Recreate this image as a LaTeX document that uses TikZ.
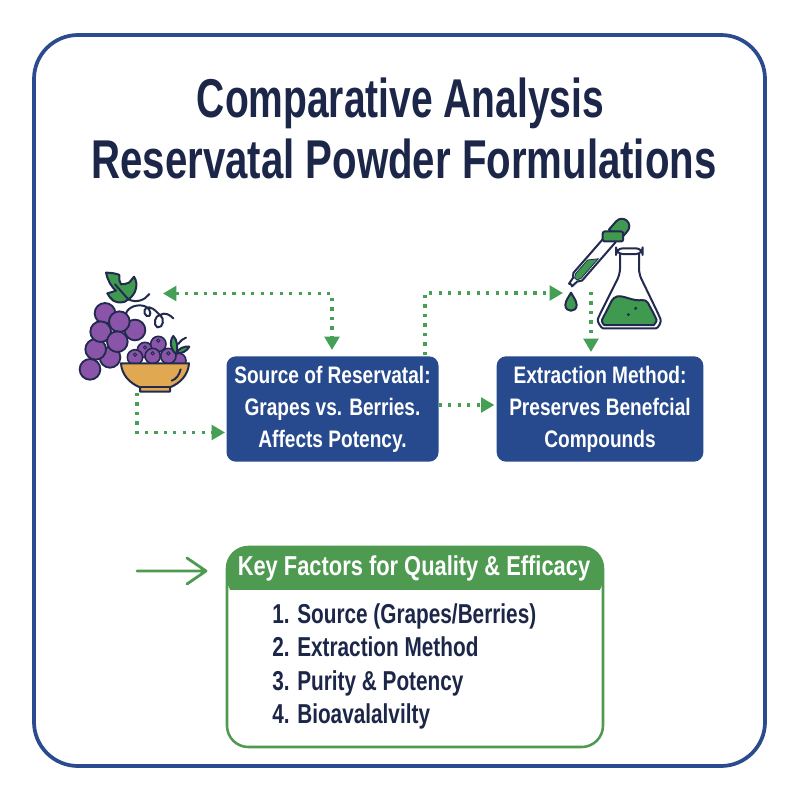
\documentclass[tikz,border=0pt]{standalone}
\usepackage{fontspec}
\setmainfont{Liberation Sans}[BoldFont={Liberation Sans Bold}]
\newfontfamily\condfont{Liberation Sans Bold}[FakeStretch=0.80]
\newfontfamily\titlefont{Liberation Sans Bold}[FakeStretch=0.713]
\newfontfamily\titlefontb{Liberation Sans Bold}[FakeStretch=0.735]
\newfontfamily\listfont{Liberation Sans Bold}[FakeStretch=0.76]
\newcommand{\lowr}[1]{\raisebox{-2.25pt}{#1}}
\usetikzlibrary{arrows.meta,calc}
\definecolor{navy}{HTML}{1C2648}
\definecolor{framec}{HTML}{2A4B8D}
\definecolor{boxc}{HTML}{274A8E}
\definecolor{greenc}{HTML}{4E9A50}
\definecolor{leafc}{HTML}{3F9A50}
\definecolor{dotc}{HTML}{45A055}
\definecolor{grapec}{HTML}{8A55A8}
\definecolor{bowlc}{HTML}{E0A850}
\definecolor{outl}{HTML}{232A50}
\tikzset{
  dotline/.style={draw=dotc,line width=2.4pt,dash pattern=on 2.4pt off 4.7pt,-{Triangle[length=10pt,width=11pt,fill=dotc,color=dotc]}},
  dotboth/.style={dotline,{Triangle[length=10pt,width=11pt,fill=dotc,color=dotc]}-{Triangle[length=10pt,width=11pt,fill=dotc,color=dotc]}},
  bluebox/.style={fill=boxc,rounded corners=7pt,text=white,align=center,inner sep=0pt,font=\condfont\fontsize{17.9}{24}\selectfont},
  grape/.style={fill=grapec,draw=outl,line width=1.4pt},
  berry/.style={fill=grapec,draw=outl,line width=1.2pt},
  icon/.style={draw=outl,line width=1.5pt,line join=round,line cap=round},
  zoomA/.style={shift={(60,250)},x=0.25pt,y=-0.25pt},
  zoomB/.style={shift={(400,210)},x=0.25pt,y=-0.25pt},
}
\begin{document}
\begin{tikzpicture}[x=0.75pt,y=-0.75pt]
\useasboundingbox (0,0) rectangle (800,800);
\fill[white] (0,0) rectangle (800,800);
\draw[framec,line width=2.8pt,rounded corners=33pt] (34,35) rectangle (765,766);

\node[anchor=base,inner sep=0pt,font=\titlefont\fontsize{41}{46}\selectfont,text=navy] (t1) at (400.5,117.5) {Comparative Analysis};
\node[anchor=base,inner sep=0pt,font=\titlefontb\fontsize{41}{46}\selectfont,text=navy] (t2) at (404,178) {Reservatal Powder Formulations};

% grapes and bowl
\begin{scope}[zoomA]
\draw[icon] (205,148) .. controls (230,160) and (255,150) .. (268,132);
\draw[icon] (198,190) .. controls (205,170) and (235,160) .. (258,170) .. controls (275,178) and (275,205) .. (260,198) .. controls (248,190) and (252,170) .. (268,172) .. controls (285,176) and (292,190) .. (300,195) .. controls (285,195) and (278,225) .. (292,232) .. controls (310,235) and (315,205) .. (300,195) .. controls (315,185) and (330,195) .. (340,205);
\foreach \gx/\gy in {135/190,225/240,178/215,150/322,107/298,122/245,172/275,90/358}
  \draw[grape] (\gx,\gy) circle (31);
\draw[icon,fill=leafc] (138,68) .. controls (150,68) and (170,70) .. (178,75) .. controls (176,85) and (178,95) .. (183,103) .. controls (192,102) and (200,102) .. (207,98) .. controls (212,92) and (218,86) .. (222,80) .. controls (230,92) and (230,105) .. (228,115) .. controls (225,130) and (215,142) .. (205,148) .. controls (198,155) and (192,156) .. (186,157) .. controls (175,158) and (165,156) .. (160,152) .. controls (152,146) and (146,138) .. (142,130) .. controls (150,128) and (160,125) .. (168,122) .. controls (155,112) and (142,90) .. (138,68) -- cycle;
\draw[icon] (165,103) -- (205,148);
\foreach \bx/\by in {355/332,255/300,295/282,225/322,278/318,325/318}
  \draw[berry] (\bx,\by) circle (23);
\foreach \bx/\by in {255/292,295/272,225/314,278/310,325/310}
  \draw[outl,line width=.7pt] (\bx,\by) circle (5);
\draw[icon,fill=leafc] (340,258) .. controls (352,268) and (354,295) .. (350,312) .. controls (335,305) and (325,275) .. (340,258) -- cycle;
\draw[icon,fill=leafc] (350,310) .. controls (355,295) and (372,288) .. (388,290) .. controls (382,302) and (365,312) .. (350,310) -- cycle;
\draw[icon] (355,282) .. controls (362,272) and (370,265) .. (378,263);
\draw[icon,fill=bowlc] (183,340) -- (387,340) .. controls (385,375) and (360,400) .. (330,412) -- (330,425) -- (240,425) -- (240,412) .. controls (210,400) and (185,375) .. (183,340) -- cycle;
\draw[icon] (240,412) -- (330,412);
\draw[icon] (335,392) .. controls (348,388) and (358,375) .. (362,358);
\end{scope}

% dropper and flask
\begin{scope}[zoomB]
\draw[icon,fill=white,rounded corners=4pt] (660,130) -- (660,192) -- (600,312) .. controls (590,335) and (605,355) .. (625,355) -- (752,355) .. controls (775,355) and (785,335) .. (775,312) -- (717,192) -- (717,130);
\draw[icon,fill=white,rounded corners=5pt] (648,115) rectangle (728,132);
\draw[icon,fill=leafc,rounded corners=3pt] (640,262) .. controls (670,255) and (700,275) .. (738,268) -- (765,318) .. controls (772,335) and (760,345) .. (750,345) -- (625,345) .. controls (612,345) and (603,335) .. (612,318) -- cycle;
\fill[outl] (707,295) circle (5) (685,314) circle (5);
\draw[icon,fill=leafc] (513,248) .. controls (518,258) and (530,272) .. (530,285) .. controls (530,308) and (496,308) .. (496,285) .. controls (496,272) and (508,258) .. (513,248) -- cycle;
\end{scope}
\begin{scope}[shift={(570.5,285)},x={(0.4935pt,0.5648pt)},y={(0.5648pt,-0.4935pt)}]
  \draw[icon,fill=white] (0,-2) to[bend left=50] (0,2) -- (7,2.8) -- (11,5.8) -- (62,5.8) -- (62,-5.8) -- (11,-5.8) -- (7,-2.8) -- cycle;
  \fill[leafc,draw=outl,line width=.6pt] (8,-1.6) -- (12,-3.6) -- (30,-3.6) -- (38,3.6) -- (12,3.6) -- (8,1.6) -- cycle;
  \draw[icon,fill=leafc] (67,-7.5) -- (78,-7.5) arc (-90:90:7.5) -- (67,7.5) -- cycle;
  \draw[icon,fill=leafc,rounded corners=1.5pt] (61.5,-11) rectangle (67.5,11);
\end{scope}

% boxes
\node[bluebox,minimum width=159pt,minimum height=79pt] (src) at (332.5,409) {\lowr{Source of Reservatal:}\\\lowr{Grapes vs. Berries.}\\\lowr{Affects Potency.}};
\node[bluebox,minimum width=155pt,minimum height=79pt] (ext) at (600,409) {\lowr{Extraction Method:}\\\lowr{Preserves Benefcial}\\\lowr{Compounds}};

% connectors
\coordinate (grapeend) at (163,293.5);
\coordinate (srctop) at (332,350);
\coordinate (bowlout) at (137,393);
\coordinate (srcleft) at (225,432.5);
\coordinate (srctop2) at (425,355);
\coordinate (dropin) at (563,293);
\coordinate (flaskout) at (591,292);
\coordinate (exttop) at (591,352);
\draw[dotboth] (grapeend) -| (srctop);
\draw[dotline] (bowlout) |- (srcleft);
\draw[dotline] (srctop2) |- (dropin);
\draw[dotline] (flaskout) -- (exttop);
\draw[dotline] ($(src.east)+(0,-4)$) -- ($(ext.west)+(-2,-4)$);

% key box
\coordinate (ka) at (137,571);
\coordinate (kb) at (206,571);
\draw[greenc,line width=2.1pt,line cap=round,line join=round] (ka) -- (kb) (187,558) -- (kb) -- (187,584);
\fill[greenc,rounded corners=16pt] (227,600) -- (227,547) -- (603,547) -- (603,600) -- cycle;
\fill[white] (226,590) rectangle (604,602);
\draw[greenc,line width=1.9pt,rounded corners=16pt] (227,547) rectangle (603,747);
\node[font=\condfont\fontsize{20.5}{24}\selectfont,text=white] (kh) at (414,568) {Key Factors for Quality \& Efficacy};
\node[anchor=north west,inner sep=0pt,align=left,text=navy,font=\listfont\fontsize{20.5}{25}\selectfont] (kl) at (272,603.5) {1. Source (Grapes/Berries)\\2. Extraction Method\\3. Purity \& Potency\\4. Bioavalalvilty};
\end{tikzpicture}
\end{document}
